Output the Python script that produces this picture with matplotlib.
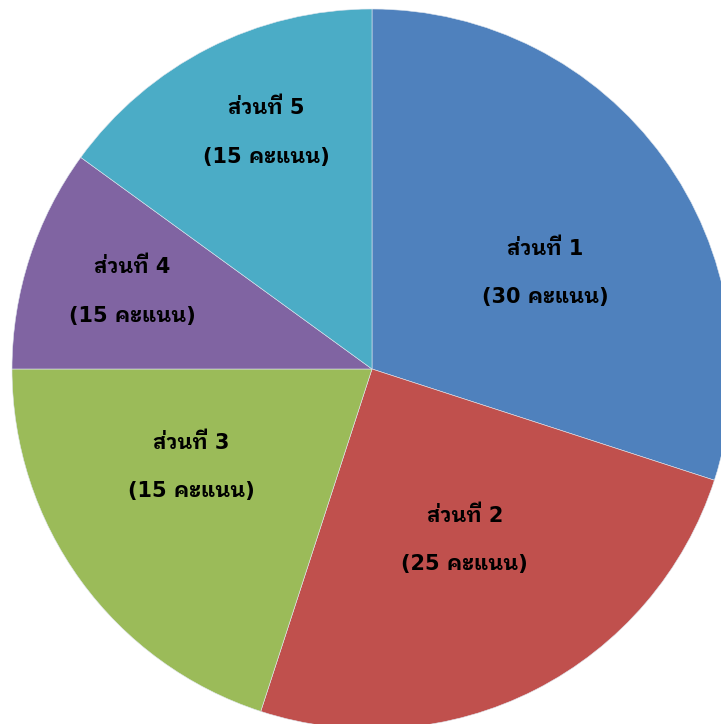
import numpy as np
import matplotlib
matplotlib.use("Agg")
import matplotlib.pyplot as plt

plt.rcParams['font.family'] = ['DejaVu Sans', 'IBM Plex Sans Thai Looped']

# slice sizes as drawn (degrees / 3.6), and the label text shown on each
parts = ["ส่วนที่ 1", "ส่วนที่ 2", "ส่วนที่ 3", "ส่วนที่ 4", "ส่วนที่ 5"]
sizes = [30, 25, 20, 10, 15]
scores = ["(30 คะแนน)", "(25 คะแนน)", "(15 คะแนน)", "(15 คะแนน)", "(15 คะแนน)"]
colors = ["#4F81BD", "#C0504D", "#9BBB59", "#8064A2", "#4BACC6"]

# label placement: distance from centre (radius units) and angle shift (deg)
lab_dist = [0.55, 0.54, 0.57, 0.70, 0.72]
lab_shift = [-7, 1.5, -7.5, 0, -3]

fig = plt.figure(figsize=(7.21, 7.24), dpi=100)
ax = fig.add_axes([0, 0, 1, 1])

wedges, _ = ax.pie(sizes, colors=colors, startangle=90, counterclock=False,
                   radius=1, center=(0, 0),
                   wedgeprops=dict(edgecolor="#dfe6ee", linewidth=0.4))

for i, w in enumerate(wedges):
    ang = np.deg2rad((w.theta1 + w.theta2) / 2 + lab_shift[i])
    x = lab_dist[i] * np.cos(ang)
    y = lab_dist[i] * np.sin(ang)
    ax.text(x, y + 0.068, parts[i], ha="center", va="center",
            fontsize=15, fontweight="bold")
    ax.text(x, y - 0.068, scores[i], ha="center", va="center",
            fontsize=15, fontweight="bold")

# pie centre sits at (372, 369) px with radius ~360 px, slightly clipped
r_px = 360.0
ax.set_xlim(-372 / r_px, (721 - 372) / r_px)
ax.set_ylim(-(724 - 369) / r_px, 369 / r_px)
ax.set_aspect("auto")
ax.axis("off")

fig.savefig("out.png", dpi=100)
